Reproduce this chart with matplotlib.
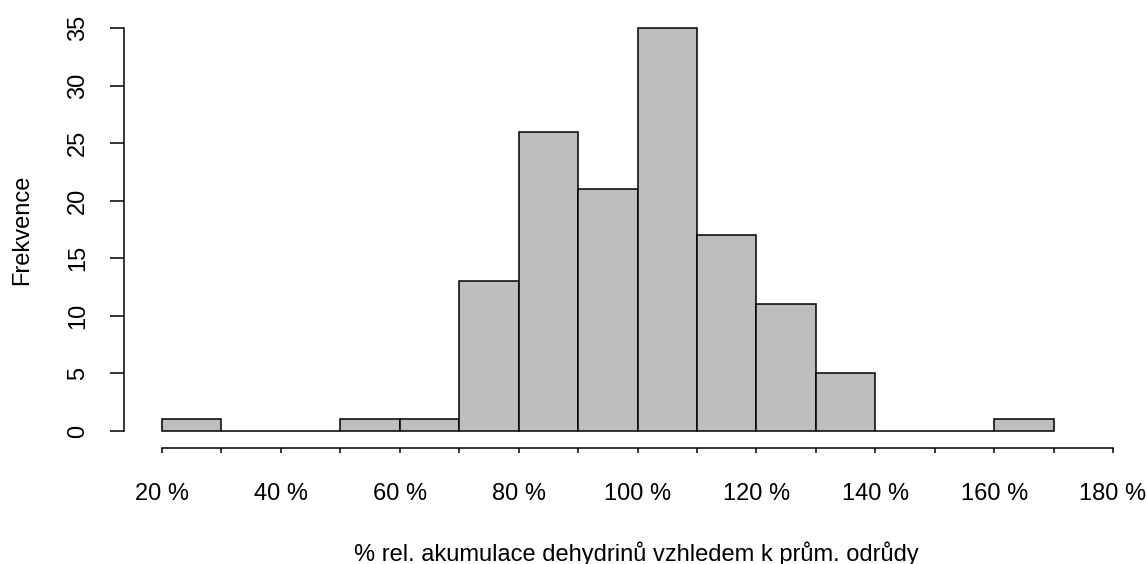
import matplotlib
matplotlib.use("Agg")
import matplotlib.pyplot as plt
import numpy as np

plt.rcParams['font.family'] = ['Liberation Sans', 'DejaVu Sans']

# hranice tříd histogramu (v %) a četnosti
hranice = [20, 30, 40, 50, 60, 70, 80, 90, 100, 110, 120, 130, 140, 150, 160, 170]
cetnosti = [1, 0, 0, 1, 1, 13, 26, 21, 35, 17, 11, 5, 0, 0, 1]
x_ticks = [20, 30, 40, 50, 60, 70, 80, 90, 100, 110, 120, 130, 140, 150, 160, 170, 180]
x_popisky = ["20 %", "", "40 %", "", "60 %", "", "80 %", "", "100 %", "", "120 %", "",
             "140 %", "", "160 %", "", "180 %"]
y_ticks = [0, 5, 10, 15, 20, 25, 30, 35]

W, H = 1147, 564
fig = plt.figure(figsize=(W / 100, H / 100), dpi=100)
ax = fig.add_axes([162 / W, (H - 431) / H, (1113 - 162) / W, (431 - 28) / H])

leve = np.array(hranice[:-1])
sirky = np.diff(hranice)
ax.bar(leve, cetnosti, width=sirky, align="edge", color="#bebebe",
       edgecolor="black", linewidth=1.1, clip_on=False)

ax.set_xlim(20, 180)
ax.set_ylim(0, 35)

for s in ["top", "right"]:
    ax.spines[s].set_visible(False)
ax.spines["left"].set_position(("outward", 27.4))
ax.spines["left"].set_bounds(0, 35)
ax.spines["bottom"].set_position(("outward", 12.2))
ax.spines["bottom"].set_bounds(20, 180)
for s in ["left", "bottom"]:
    ax.spines[s].set_linewidth(1.1)

ax.set_xticks(x_ticks)
ax.set_xticklabels(x_popisky, fontsize=17)
ax.tick_params(axis="x", length=3.6, width=1.1, pad=21.5)

ax.set_yticks(y_ticks)
ax.set_yticklabels([str(v) for v in y_ticks], fontsize=17, rotation=90, va="center")
ax.tick_params(axis="y", length=10, width=1.1, pad=15)

fig.text(22 / W, 1 - 230 / H, "Frekvence", rotation=90, ha="center", va="center",
         fontsize=17)
fig.text(636 / W, 1 - 561 / H, "% rel. akumulace dehydrinů vzhledem k prům. odrůdy",
         ha="center", va="baseline", fontsize=17)

fig.savefig("out.png", dpi=100)
